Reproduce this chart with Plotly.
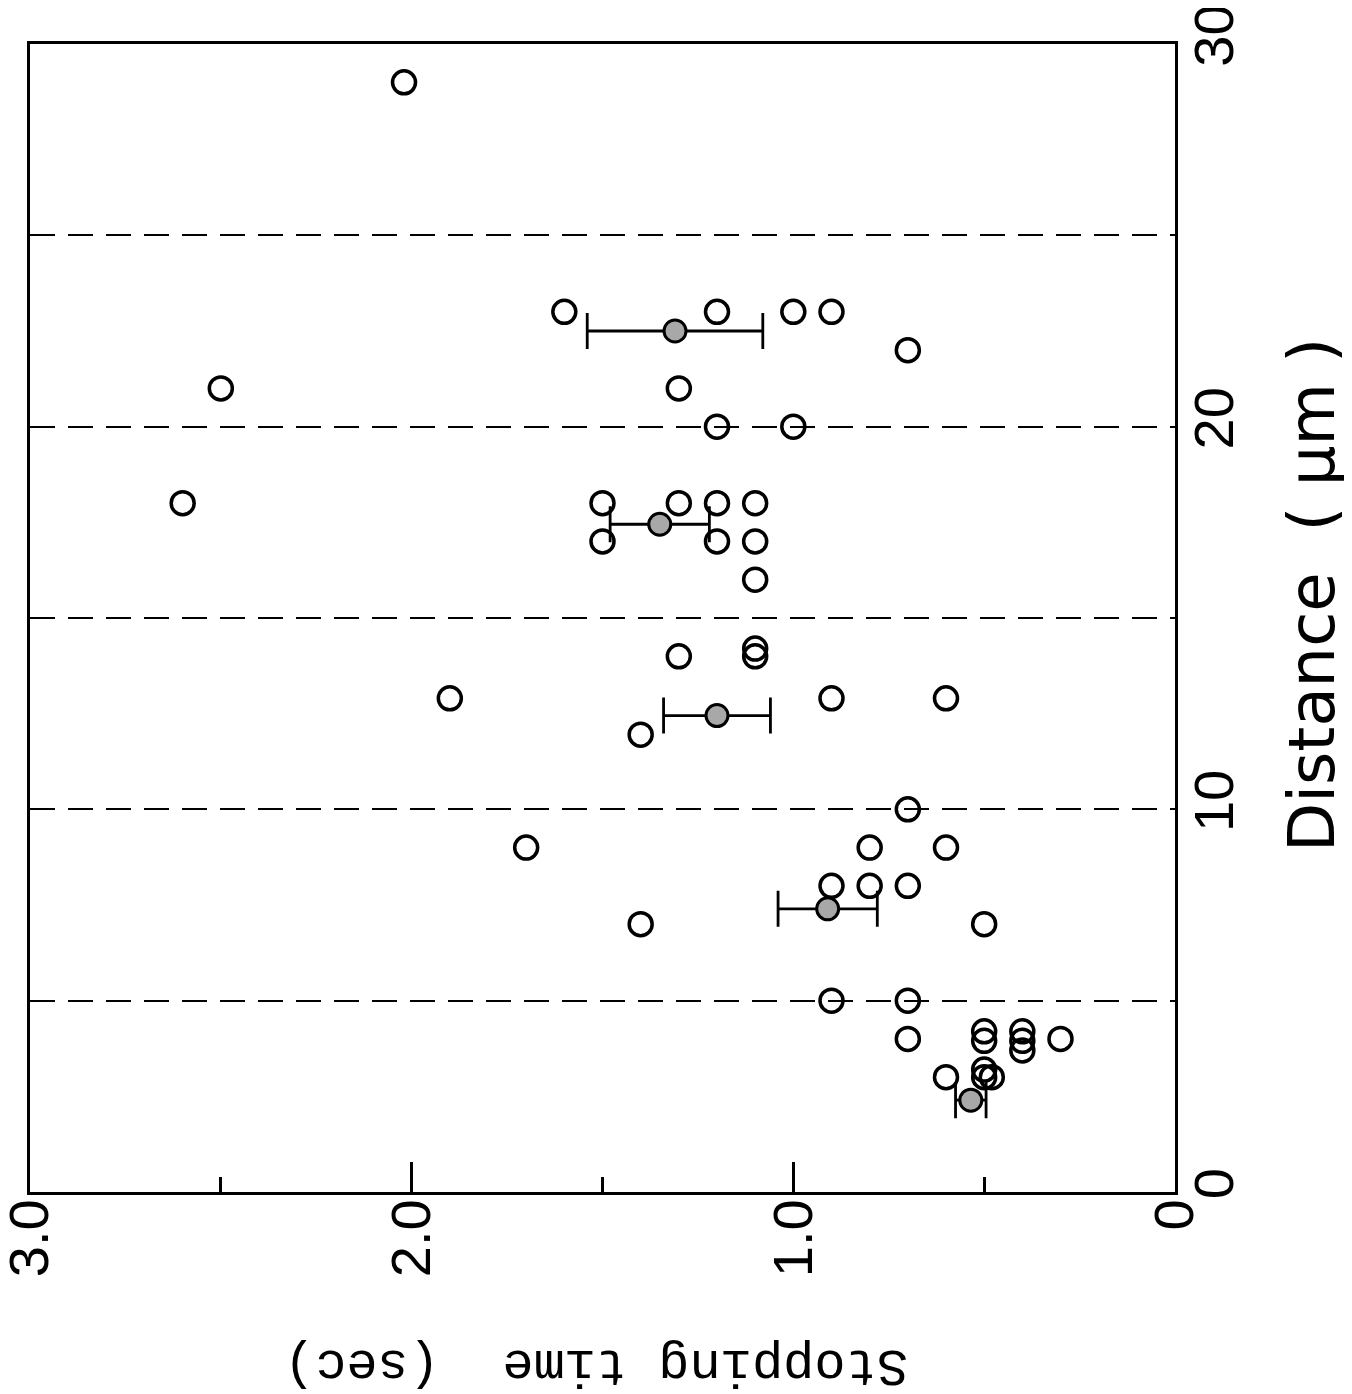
import plotly.graph_objects as go

# Individual measurements (open circles)
open_time = [2.02, 2.50, 2.60, 1.60, 1.20, 1.00, 0.90, 0.70, 1.30, 1.20, 1.00,
             1.50, 1.30, 1.20, 1.10, 1.50, 1.20, 1.10, 1.10, 1.10, 1.10, 1.30,
             1.90, 0.90, 0.60, 1.40, 0.70, 1.70, 0.80, 0.60, 0.90, 0.80, 0.70,
             1.40, 0.50, 0.90, 0.70, 0.70, 0.50, 0.50, 0.40, 0.40, 0.40, 0.30,
             0.60, 0.50, 0.50, 0.48]
open_dist = [29.0, 21.0, 18.0, 23.0, 23.0, 23.0, 23.0, 22.0, 21.0, 20.0, 20.0,
             18.0, 18.0, 18.0, 18.0, 17.0, 17.0, 17.0, 16.0, 14.2, 14.0, 14.0,
             12.9, 12.9, 12.9, 11.95, 10.0, 9.0, 9.0, 9.0, 8.0, 8.0, 8.0,
             7.0, 7.0, 5.0, 5.0, 4.0, 4.2, 3.95, 4.2, 3.95, 3.7, 4.0,
             3.0, 3.2, 3.0, 3.0]

# Means with error bars (filled circles)
mean_time = [1.31, 1.35, 1.20, 0.91, 0.535]
mean_dist = [22.5, 17.45, 12.45, 7.4, 2.4]
mean_err = [0.23, 0.13, 0.14, 0.13, 0.04]

x_tickvals = [0, 1, 2, 3]
x_ticktext = ["0", "1.0", "2.0", "3.0"]
y_tickvals = [0, 5, 10, 15, 20, 25, 30]
y_ticktext = ["0", "", "10", "", "20", "", "30"]

fig = go.Figure()
fig.add_trace(go.Scatter(
    x=open_time, y=open_dist, mode="markers",
    marker=dict(symbol="circle-open", size=23, color="black",
                line=dict(width=3.5, color="black")),
    showlegend=False))
fig.add_trace(go.Scatter(
    x=mean_time, y=mean_dist, mode="markers",
    error_x=dict(type="data", array=mean_err, symmetric=True,
                 color="black", thickness=2.8, width=18),
    marker=dict(symbol="circle", size=22, color="#a8a8a8",
                line=dict(width=3, color="black")),
    showlegend=False))

fig.update_layout(
    width=1344, height=1386,
    margin=dict(l=22, r=177, t=36, b=202),
    paper_bgcolor="white", plot_bgcolor="white",
    font=dict(family="Liberation Sans", color="black"),
    xaxis=dict(range=[3, 0], tickvals=x_tickvals, ticktext=x_ticktext,
               tickangle=-90, tickfont=dict(size=56, family="Liberation Sans"),
               ticks="inside", ticklen=30, tickwidth=2.5, tickcolor="black",
               minor=dict(dtick=0.5, ticks="inside", ticklen=15, tickwidth=2.5,
                          tickcolor="black", showgrid=False),
               ticklabelstandoff=-18, ticklabeloverflow="allow",
               automargin=False,
               showgrid=False, zeroline=False,
               showline=True, linewidth=3, linecolor="black", mirror=True),
    yaxis=dict(range=[0, 30], side="right", tickvals=y_tickvals,
               ticktext=y_ticktext, tickangle=-90,
               tickfont=dict(size=56, family="Liberation Sans"),
               ticklabelstandoff=-12, ticklabeloverflow="allow",
               automargin=False,
               ticks="", showgrid=True, gridcolor="black", gridwidth=2.2,
               griddash="25px,13px", zeroline=False,
               showline=True, linewidth=3, linecolor="black", mirror=True),
    annotations=[
        dict(text="Distance  ( μm )", xref="paper", yref="paper",
             x=1.1197, y=0.52, xanchor="center", yanchor="middle",
             textangle=-90, showarrow=False,
             font=dict(family="DejaVu Sans", size=64, color="black")),
        dict(text="Stopping time  (sec)", xref="paper", yref="paper",
             x=0.4943, y=-0.1507, xanchor="center", yanchor="middle",
             textangle=180, showarrow=False,
             font=dict(family="Liberation Mono", size=52, color="black")),
    ],
)

fig.write_html("out.html")
